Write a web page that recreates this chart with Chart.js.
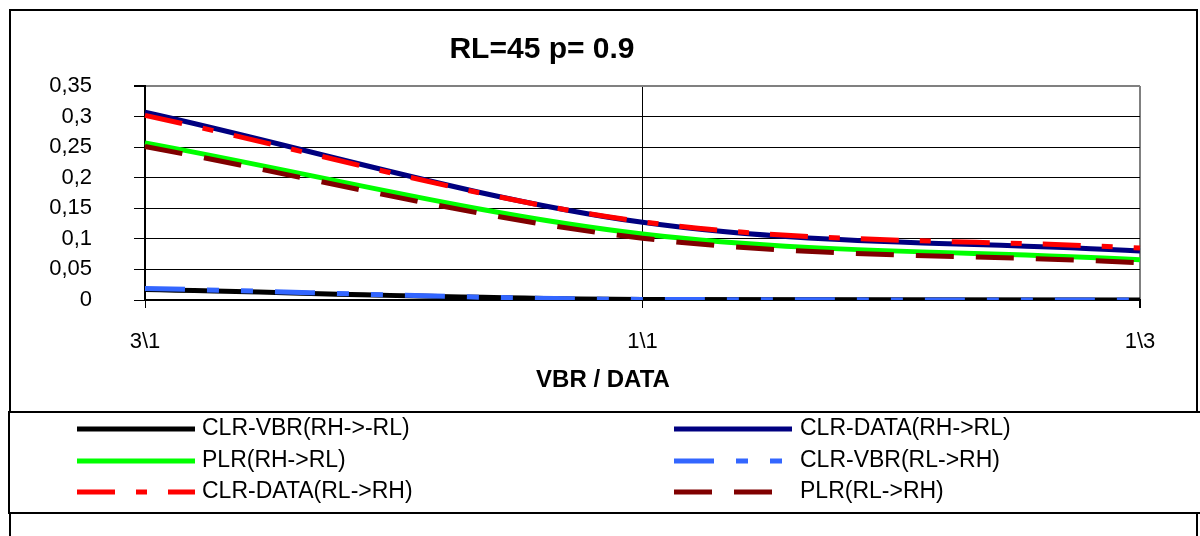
<!DOCTYPE html>
<html>
<head>
<meta charset="utf-8">
<script src="https://cdn.jsdelivr.net/npm/chart.js@4"></script>
<style>
  html, body { margin: 0; padding: 0; background: #fff; }
  #wrap { width: 1200px; height: 536px; }
</style>
</head>
<body>
<div id="wrap"><canvas id="lossChart"></canvas></div>
<script>
const categories = ['3\\1', '1\\1', '1\\3'];

const clrVbrHighLow = [0.017, 0.001, 0];
const clrDataHighLow = [0.307, 0.127, 0.080];
const plrHighLow = [0.257, 0.108, 0.066];
const clrVbrLowHigh = [0.019, 0.001, 0];
const clrDataLowHigh = [0.302, 0.128, 0.085];
const plrLowHigh = [0.251, 0.101, 0.061];

const seriesNames = [
    'CLR-VBR(RH->-RL)', 'CLR-DATA(RH->RL)',
    'PLR(RH->RL)', 'CLR-VBR(RL->RH)',
    'CLR-DATA(RL->RH)', 'PLR(RL->RH)'
];

const yMin = 0;
const yMax = 0.35;
const yStep = 0.05;

const chartTitle = 'RL=45 p= 0.9';
const xTitle = 'VBR / DATA';

const FONT = "'Liberation Sans', Arial, sans-serif";

document.addEventListener('DOMContentLoaded', function() {
    const ctx = document.getElementById('lossChart').getContext('2d');

    const styles = [
        { color: '#000000', dash: [] },
        { color: '#000080', dash: [] },
        { color: '#00ff00', dash: [] },
        { color: '#3366ff', dash: [40, 22, 12, 22, 12, 22] },
        { color: '#ff0000', dash: [38, 21, 11, 21] },
        { color: '#800000', dash: [38, 22] }
    ];
    const values = [clrVbrHighLow, clrDataHighLow, plrHighLow, clrVbrLowHigh, clrDataLowHigh, plrLowHigh];

    const datasets = values.map((v, i) => ({
        label: seriesNames[i],
        data: v,
        borderColor: styles[i].color,
        backgroundColor: styles[i].color,
        borderDash: styles[i].dash,
        borderWidth: 5,
        pointRadius: 0,
        cubicInterpolationMode: 'monotone',
        fill: false,
        order: values.length - i
    }));

    // frame, titles and the two-column legend
    const decorations = {
        id: 'decorations',
        beforeDraw(chart) {
            const c = chart.ctx;
            c.save();
            c.fillStyle = '#fff';
            c.fillRect(0, 0, chart.width, chart.height);
            c.restore();
        },
        afterDraw(chart) {
            const c = chart.ctx;
            c.save();
            c.strokeStyle = '#000';
            c.lineWidth = 2;
            c.strokeRect(10, 10, 1187, 600);

            c.fillStyle = '#000';
            c.textAlign = 'center';
            c.textBaseline = 'middle';
            c.font = 'bold 30px ' + FONT;
            c.fillText(chartTitle, 542, 50);
            c.font = 'bold 24px ' + FONT;
            c.fillText(xTitle, 603, 380);

            // legend box
            c.fillStyle = '#fff';
            c.fillRect(9, 413, 1195, 99);
            c.strokeStyle = '#000';
            c.lineWidth = 2;
            c.strokeRect(9, 412, 1200, 101);

            const colLine = [77, 674];
            const colText = [202, 800];
            const rowY = [429, 461, 492];
            c.font = '23px ' + FONT;
            c.textAlign = 'left';
            chart.data.datasets.forEach((ds, i) => {
                const col = i % 2;
                const row = Math.floor(i / 2);
                const y = rowY[row];
                c.beginPath();
                c.setLineDash(ds.borderDash);
                c.lineWidth = 5;
                c.strokeStyle = ds.borderColor;
                c.moveTo(colLine[col], y);
                c.lineTo(colLine[col] + 118, y);
                c.stroke();
                c.setLineDash([]);
                c.fillStyle = '#000';
                c.fillText(ds.label, colText[col], y);
            });
            c.restore();
        }
    };

    new Chart(ctx, {
        type: 'line',
        data: { labels: categories, datasets: datasets },
        plugins: [decorations],
        options: {
            responsive: true,
            maintainAspectRatio: false,
            animation: false,
            layout: { padding: { top: 86, right: 60, bottom: 0, left: 0 } },
            plugins: {
                legend: { display: false },
                title: { display: false },
                tooltip: { enabled: false }
            },
            scales: {
                x: {
                    type: 'category',
                    offset: false,
                    afterFit: function(scale) { scale.height = 236; },
                    border: { display: true, color: '#000', width: 2 },
                    grid: {
                        drawOnChartArea: true,
                        color: c => c.index === categories.length - 1 ? '#808080' : '#000',
                        lineWidth: c => c.index === categories.length - 1 ? 2 : 1,
                        tickColor: '#000',
                        tickLength: 8
                    },
                    ticks: {
                        color: '#000',
                        font: { family: FONT, size: 22 },
                        padding: 21,
                        maxRotation: 0,
                        autoSkip: false
                    }
                },
                y: {
                    min: yMin,
                    max: yMax,
                    afterFit: function(scale) { scale.width = 145; },
                    border: { display: true, color: '#000', width: 2 },
                    grid: {
                        color: c => (c.tick && Math.abs(c.tick.value - yMax) < 1e-6) ? '#808080' : '#000',
                        lineWidth: c => (c.tick && Math.abs(c.tick.value - yMax) < 1e-6) ? 2 : 1,
                        tickColor: '#000',
                        tickLength: 11
                    },
                    ticks: {
                        stepSize: yStep,
                        color: '#000',
                        font: { family: FONT, size: 22 },
                        padding: 42,
                        callback: v => String(Number(v.toFixed(2))).replace('.', ',')
                    }
                }
            }
        }
    });
});
</script>
</body>
</html>
